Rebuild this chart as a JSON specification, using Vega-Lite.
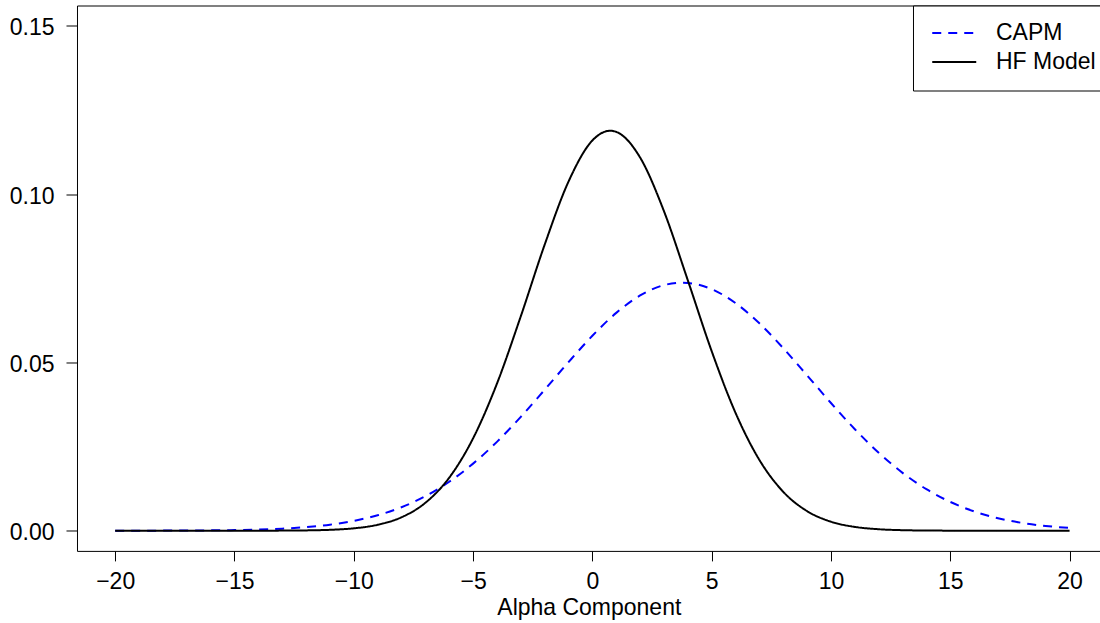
{
  "$schema": "https://vega.github.io/schema/vega-lite/v6.json",
  "autosize": "none",
  "width": 1023.6,
  "height": 545.4,
  "padding": {"left": 77, "top": 5.5, "right": 0, "bottom": 72.1},
  "background": "white",
  "config": {
    "view": {"stroke": "black", "strokeWidth": 1},
    "font": "Liberation Sans",
    "axis": {
      "grid": false,
      "domain": false,
      "tickColor": "black",
      "tickWidth": 1,
      "labelColor": "black",
      "labelFont": "Liberation Sans",
      "labelFontSize": 23,
      "titleFont": "Liberation Sans",
      "titleFontSize": 23,
      "titleFontWeight": "normal",
      "titleColor": "black"
    }
  },
  "datasets": {
    "curves": [
      {"model": "CAPM", "x": -20, "y": 0.0000049},
      {"model": "CAPM", "x": -19, "y": 0.0000108},
      {"model": "CAPM", "x": -18, "y": 0.000023},
      {"model": "CAPM", "x": -17, "y": 0.0000475},
      {"model": "CAPM", "x": -16, "y": 0.0000948},
      {"model": "CAPM", "x": -15, "y": 0.000183},
      {"model": "CAPM", "x": -14, "y": 0.000341},
      {"model": "CAPM", "x": -13, "y": 0.000613},
      {"model": "CAPM", "x": -12, "y": 0.001068},
      {"model": "CAPM", "x": -11, "y": 0.001797},
      {"model": "CAPM", "x": -10, "y": 0.002922},
      {"model": "CAPM", "x": -9, "y": 0.004591},
      {"model": "CAPM", "x": -8, "y": 0.006973},
      {"model": "CAPM", "x": -7, "y": 0.01024},
      {"model": "CAPM", "x": -6, "y": 0.01453},
      {"model": "CAPM", "x": -5, "y": 0.01992},
      {"model": "CAPM", "x": -4, "y": 0.02639},
      {"model": "CAPM", "x": -3, "y": 0.0338},
      {"model": "CAPM", "x": -2, "y": 0.04185},
      {"model": "CAPM", "x": -1, "y": 0.05007},
      {"model": "CAPM", "x": 0, "y": 0.05789},
      {"model": "CAPM", "x": 1, "y": 0.0647},
      {"model": "CAPM", "x": 2, "y": 0.06987},
      {"model": "CAPM", "x": 3, "y": 0.07294},
      {"model": "CAPM", "x": 3.76, "y": 0.07366},
      {"model": "CAPM", "x": 4, "y": 0.07359},
      {"model": "CAPM", "x": 5, "y": 0.07175},
      {"model": "CAPM", "x": 6, "y": 0.06762},
      {"model": "CAPM", "x": 7, "y": 0.06159},
      {"model": "CAPM", "x": 8, "y": 0.05422},
      {"model": "CAPM", "x": 9, "y": 0.04613},
      {"model": "CAPM", "x": 10, "y": 0.03793},
      {"model": "CAPM", "x": 11, "y": 0.03015},
      {"model": "CAPM", "x": 12, "y": 0.02315},
      {"model": "CAPM", "x": 13, "y": 0.01718},
      {"model": "CAPM", "x": 14, "y": 0.01233},
      {"model": "CAPM", "x": 15, "y": 0.00855},
      {"model": "CAPM", "x": 16, "y": 0.00573},
      {"model": "CAPM", "x": 17, "y": 0.00371},
      {"model": "CAPM", "x": 18, "y": 0.002324},
      {"model": "CAPM", "x": 19, "y": 0.001406},
      {"model": "CAPM", "x": 20, "y": 0.000822},
      {"model": "HF Model", "x": -20, "y": 0.0},
      {"model": "HF Model", "x": -19, "y": 0.0},
      {"model": "HF Model", "x": -18, "y": 0.0},
      {"model": "HF Model", "x": -17, "y": 0.0000001},
      {"model": "HF Model", "x": -16, "y": 0.0000004},
      {"model": "HF Model", "x": -15, "y": 0.000002},
      {"model": "HF Model", "x": -14, "y": 0.0000077},
      {"model": "HF Model", "x": -13, "y": 0.0000272},
      {"model": "HF Model", "x": -12, "y": 0.000088},
      {"model": "HF Model", "x": -11, "y": 0.00026},
      {"model": "HF Model", "x": -10, "y": 0.000707},
      {"model": "HF Model", "x": -9, "y": 0.001755},
      {"model": "HF Model", "x": -8, "y": 0.003985},
      {"model": "HF Model", "x": -7, "y": 0.008285},
      {"model": "HF Model", "x": -6, "y": 0.01575},
      {"model": "HF Model", "x": -5, "y": 0.02743},
      {"model": "HF Model", "x": -4, "y": 0.04368},
      {"model": "HF Model", "x": -3, "y": 0.06369},
      {"model": "HF Model", "x": -2, "y": 0.08495},
      {"model": "HF Model", "x": -1, "y": 0.1037},
      {"model": "HF Model", "x": 0, "y": 0.1159},
      {"model": "HF Model", "x": 0.75, "y": 0.1188},
      {"model": "HF Model", "x": 1, "y": 0.11847},
      {"model": "HF Model", "x": 2, "y": 0.11085},
      {"model": "HF Model", "x": 3, "y": 0.09491},
      {"model": "HF Model", "x": 4, "y": 0.07438},
      {"model": "HF Model", "x": 5, "y": 0.05333},
      {"model": "HF Model", "x": 6, "y": 0.035},
      {"model": "HF Model", "x": 7, "y": 0.02102},
      {"model": "HF Model", "x": 8, "y": 0.01155},
      {"model": "HF Model", "x": 9, "y": 0.00581},
      {"model": "HF Model", "x": 10, "y": 0.002674},
      {"model": "HF Model", "x": 11, "y": 0.001127},
      {"model": "HF Model", "x": 12, "y": 0.000435},
      {"model": "HF Model", "x": 13, "y": 0.000153},
      {"model": "HF Model", "x": 14, "y": 0.000049},
      {"model": "HF Model", "x": 15, "y": 0.000015},
      {"model": "HF Model", "x": 16, "y": 0.000004},
      {"model": "HF Model", "x": 17, "y": 0.000001},
      {"model": "HF Model", "x": 18, "y": 0.0},
      {"model": "HF Model", "x": 19, "y": 0.0},
      {"model": "HF Model", "x": 20, "y": 0.0}
    ]
  },
  "layer": [
    {
      "mark": {"type": "rule", "color": "#555555", "strokeWidth": 1},
      "encoding": {
        "x": {"datum": 0, "type": "quantitative"}
      }
    },
    {
      "data": {"name": "curves"},
      "mark": {"type": "line", "strokeWidth": 2, "interpolate": "monotone", "clip": true},
      "encoding": {
        "x": {
          "field": "x",
          "type": "quantitative",
          "scale": {"domain": [-21.6, 21.3], "nice": false, "zero": false},
          "axis": {
            "values": [-20, -15, -10, -5, 0, 5, 10, 15, 20],
            "tickSize": 10,
            "labelPadding": 10,
            "title": "Alpha Component",
            "titlePadding": 3,
            "labelFlush": false,
            "labelOverlap": false
          }
        },
        "y": {
          "field": "y",
          "type": "quantitative",
          "scale": {"domain": [-0.006, 0.156], "nice": false, "zero": false},
          "axis": {
            "values": [0, 0.05, 0.1, 0.15],
            "format": ".2f",
            "tickSize": 11,
            "labelPadding": 12,
            "labelOffset": 2,
            "title": null,
            "labelFlush": false,
            "labelOverlap": false
          }
        },
        "color": {
          "field": "model",
          "type": "nominal",
          "scale": {"domain": ["CAPM", "HF Model"], "range": ["#0000FF", "#000000"]},
          "legend": {
            "title": null,
            "orient": "none",
            "legendX": 836,
            "legendY": 0,
            "padding": 16,
            "strokeColor": "black",
            "fillColor": "white",
            "cornerRadius": 0,
            "symbolType": "M-1.5,0H6.5",
            "symbolSize": 121,
            "symbolStrokeWidth": 2,
            "labelOffset": 44,
            "labelFontSize": 23,
            "labelFont": "Liberation Sans",
            "labelColor": "black",
            "labelLimit": 400,
            "rowPadding": 5
          }
        },
        "strokeDash": {
          "field": "model",
          "type": "nominal",
          "scale": {"domain": ["CAPM", "HF Model"], "range": [[9, 7], [1, 0]]},
          "legend": {
            "title": null,
            "orient": "none",
            "legendX": 836,
            "legendY": 0,
            "padding": 16,
            "strokeColor": "black",
            "fillColor": "white",
            "cornerRadius": 0,
            "symbolType": "M-1.5,0H6.5",
            "symbolSize": 121,
            "symbolStrokeWidth": 2,
            "labelOffset": 44,
            "labelFontSize": 23,
            "labelFont": "Liberation Sans",
            "labelColor": "black",
            "labelLimit": 400,
            "rowPadding": 5
          }
        }
      }
    }
  ]
}
